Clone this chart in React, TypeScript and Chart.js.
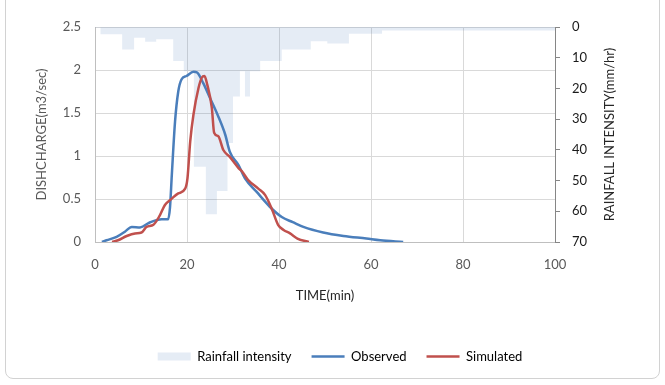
import { useEffect, useRef } from "react";
import { Chart, registerables } from "chart.js";

Chart.register(...registerables);

// TIME (min) and DISCHARGE (m3/sec) of the observed hydrograph
const obsTime = [1.5, 2.5, 4.7, 6.5, 8, 9.8, 12, 14.5, 15.9, 16.3, 16.7, 17.4, 18.1, 18.8, 19.9, 21.4, 22.2, 23.5, 25, 26.8, 28.3, 29.3, 31.2, 32.6, 35.1, 38, 40.6, 43, 45.3, 49.6, 54, 59, 62, 67];
const obsFlow = [0, 0.02, 0.06, 0.12, 0.175, 0.17, 0.23, 0.265, 0.265, 0.4, 0.78, 1.4, 1.75, 1.89, 1.93, 1.98, 1.97, 1.85, 1.675, 1.46, 1.25, 1.05, 0.895, 0.74, 0.585, 0.41, 0.29, 0.23, 0.175, 0.11, 0.07, 0.04, 0.02, 0];

// TIME (min) and DISCHARGE (m3/sec) of the simulated hydrograph
const simTime = [3.7, 5, 6.9, 8.7, 10.1, 11.2, 12.7, 14.1, 15.2, 16.7, 18.1, 19.6, 20.1, 20.7, 21.4, 22.5, 23.2, 23.8, 24.4, 25.4, 25.9, 26.8, 27.9, 29.3, 31.2, 31.9, 33.3, 35.5, 37, 38.4, 39.8, 41, 42.4, 44, 46.5];
const simFlow = [0, 0.02, 0.07, 0.1, 0.11, 0.175, 0.2, 0.31, 0.43, 0.505, 0.565, 0.62, 0.74, 1.17, 1.48, 1.79, 1.91, 1.93, 1.83, 1.56, 1.27, 1.23, 1.07, 0.99, 0.86, 0.825, 0.72, 0.62, 0.545, 0.39, 0.2, 0.14, 0.1, 0.04, 0];

// Rainfall intensity (mm/hr): each value holds from its start time to the next one
const rainStart = [0, 1.2, 5.9, 8.5, 10.9, 13.3, 17, 19.3, 21.5, 24.1, 26.5, 28.8, 30, 31.5, 32.6, 33.7, 35.9, 40.6, 46.9, 50.5, 55.2, 62.4, 100];
const rainIntensity = [0.2, 2.4, 7.3, 3.5, 4.8, 4.0, 11.1, 14.4, 45.5, 61, 53.4, 37.8, 22.6, 14.4, 22.6, 14.4, 11.1, 7.3, 4.6, 5.4, 2.2, 1.1, 1.1];

const seriesLabels = ["Rainfall intensity", "Observed", "Simulated"];

const FONT = "Lato, 'Open Sans', 'DejaVu Sans', sans-serif";
const RAIN_FILL = "rgba(79,129,189,0.15)";
const OBS_COLOR = "#4a7ebb";
const SIM_COLOR = "#c0504d";

const rightTitlePlugin = {
  id: "rightTitle",
  afterDraw(chart: any) {
    const s = chart.scales.y2;
    const ctx = chart.ctx;
    ctx.save();
    ctx.translate(s.left + 55, (chart.chartArea.top + chart.chartArea.bottom) / 2);
    ctx.rotate(-Math.PI / 2);
    ctx.font = `13px ${FONT}`;
    ctx.fillStyle = "#262626";
    ctx.textAlign = "center";
    ctx.textBaseline = "middle";
    ctx.fillText("RAINFALL INTENSITY(mm/hr)", 0, 0);
    ctx.restore();
  },
};

export default function App() {
  const ref = useRef<HTMLCanvasElement | null>(null);

  useEffect(() => {
    if (!ref.current) return;
    const font = { family: FONT, size: 13 };
    const chart = new Chart(ref.current, {
      type: "line",
      data: {
        datasets: [
          {
            label: seriesLabels[2],
            data: simTime.map((t, i) => ({ x: t, y: simFlow[i] })),
            borderColor: SIM_COLOR,
            backgroundColor: SIM_COLOR,
            borderWidth: 2.5,
            pointRadius: 0,
            cubicInterpolationMode: "monotone",
            fill: false,
            yAxisID: "y",
            order: 0,
          },
          {
            label: seriesLabels[1],
            data: obsTime.map((t, i) => ({ x: t, y: obsFlow[i] })),
            borderColor: OBS_COLOR,
            backgroundColor: OBS_COLOR,
            borderWidth: 2.5,
            pointRadius: 0,
            cubicInterpolationMode: "monotone",
            fill: false,
            yAxisID: "y",
            order: 1,
          },
          {
            label: seriesLabels[0],
            data: rainStart.map((t, i) => ({ x: t, y: rainIntensity[i] })),
            stepped: true,
            fill: "origin",
            backgroundColor: RAIN_FILL,
            borderColor: "rgba(0,0,0,0)",
            borderWidth: 0,
            pointRadius: 0,
            yAxisID: "y2",
            order: 2,
          },
        ],
      },
      options: {
        responsive: false,
        animation: false,
        events: [],
        layout: { padding: { left: 15, right: 0, top: 27, bottom: 12 } },
        scales: {
          x: {
            type: "linear",
            min: 0,
            max: 100,
            ticks: { stepSize: 20, padding: 15, color: "#595959", font },
            grid: { color: "#d9d9d9", drawTicks: false },
            border: { color: "#bfbfbf" },
            title: {
              display: true,
              text: "TIME(min)",
              color: "#262626",
              font,
              padding: { top: 0, bottom: 26 },
            },
            afterFit: (s: any) => {
              s.height = 88;
            },
          },
          y: {
            type: "linear",
            position: "left",
            min: 0,
            max: 2.5,
            ticks: {
              stepSize: 0.5,
              padding: 14,
              color: "#595959",
              font,
              callback: (v: any) => String(Math.round(Number(v) * 10) / 10),
            },
            grid: { color: "#d9d9d9", drawTicks: false },
            border: { color: "#bfbfbf" },
            title: {
              display: true,
              text: "DISHCHARGE(m3/sec)",
              color: "#595959",
              font,
              padding: { top: 19, bottom: 0 },
            },
            afterFit: (s: any) => {
              s.width = 80;
            },
          },
          y2: {
            type: "linear",
            position: "right",
            reverse: true,
            min: 0,
            max: 70,
            ticks: { stepSize: 10, padding: 12, color: "#1a1a1a", font },
            grid: { drawOnChartArea: false, drawTicks: true, tickLength: 5, color: "#868686" },
            border: { color: "#868686" },
            afterFit: (s: any) => {
              s.width = 110;
            },
          },
        },
        plugins: {
          tooltip: { enabled: false },
          legend: {
            position: "bottom",
            labels: {
              usePointStyle: true,
              pointStyleWidth: 33,
              boxHeight: 8,
              padding: 20,
              color: "#595959",
              font,
              generateLabels: () => [
                {
                  text: seriesLabels[0],
                  fillStyle: RAIN_FILL,
                  strokeStyle: "rgba(0,0,0,0)",
                  lineWidth: 0,
                  pointStyle: "rect",
                  hidden: false,
                  datasetIndex: 2,
                },
                {
                  text: seriesLabels[1],
                  fillStyle: "rgba(0,0,0,0)",
                  strokeStyle: OBS_COLOR,
                  lineWidth: 2.5,
                  pointStyle: "line",
                  hidden: false,
                  datasetIndex: 1,
                },
                {
                  text: seriesLabels[2],
                  fillStyle: "rgba(0,0,0,0)",
                  strokeStyle: SIM_COLOR,
                  lineWidth: 2.5,
                  pointStyle: "line",
                  hidden: false,
                  datasetIndex: 0,
                },
              ],
            },
          },
        },
      } as any,
      plugins: [rightTitlePlugin],
    });
    return () => chart.destroy();
  }, []);

  return (
    <div style={{ position: "fixed", left: 0, top: 0, width: 665, height: 385, background: "#fff", overflow: "hidden" }}>
      <div
        style={{
          position: "absolute",
          left: 5,
          top: -8,
          width: 655,
          height: 387,
          boxSizing: "border-box",
          border: "1px solid #d2d2d2",
          borderRadius: 8,
        }}
      />
      <canvas ref={ref} width={665} height={385} style={{ position: "absolute", left: 0, top: 0 }} />
    </div>
  );
}
